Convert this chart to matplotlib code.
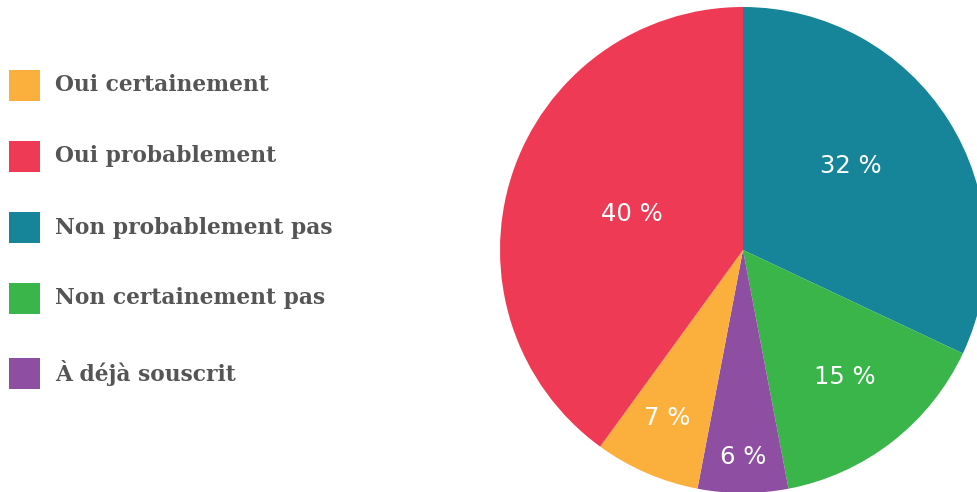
import matplotlib
matplotlib.use("Agg")
import matplotlib.pyplot as plt
from matplotlib.patches import Rectangle
import numpy as np

# Data (clockwise from top)
categories = ["Non probablement pas", "Non certainement pas", "À déjà souscrit",
              "Oui certainement", "Oui probablement"]
values = [32, 15, 6, 7, 40]
colors = ["#178599", "#39B54A", "#8E4FA3", "#FBB03D", "#EE3A54"]

legend_order = ["Oui certainement", "Oui probablement", "Non probablement pas",
                "Non certainement pas", "À déjà souscrit"]
label_radius = [0.56, 0.67, 0.85, 0.76, 0.48]
label_angle_shift = [5.5, 1.0, 0.0, -1.0, 0.0]

W, H = 977, 492
fig = plt.figure(figsize=(W / 100, H / 100), dpi=100)
fig.patch.set_facecolor("white")

cx, cy, r = 743, 250, 243
ax = fig.add_axes([(cx - r) / W, (H - cy - r) / H, 2 * r / W, 2 * r / H])
wedges, _ = ax.pie(values, colors=colors, startangle=90, counterclock=False,
                   radius=1, wedgeprops=dict(linewidth=0))
ax.set_xlim(-1, 1)
ax.set_ylim(-1, 1)
ax.set_aspect("auto")
ax.axis("off")

for w, v, lr, sh in zip(wedges, values, label_radius, label_angle_shift):
    ang = np.deg2rad((w.theta1 + w.theta2) / 2 + sh)
    ax.text(lr * np.cos(ang), lr * np.sin(ang), f"{v} %", color="white",
            fontsize=17.5, ha="center", va="center", family="DejaVu Sans")

# Legend
ys = [85, 156, 228, 298, 373]
for name, y in zip(legend_order, ys):
    col = colors[categories.index(name)]
    fig.patches.append(Rectangle((9 / W, (H - y - 15.5) / H), 31 / W, 31 / H,
                                 transform=fig.transFigure, facecolor=col,
                                 edgecolor="none"))
    fig.text(55 / W, (H - y) / H, name, color="#555555", fontsize=15.7,
             fontweight="bold", family="DejaVu Serif", va="center", ha="left")

fig.savefig("out.png", dpi=100)
